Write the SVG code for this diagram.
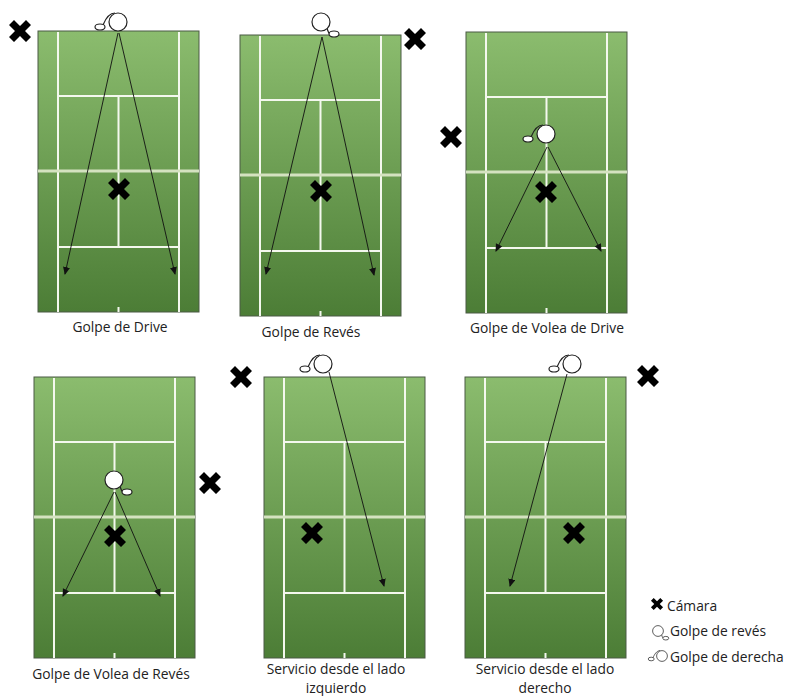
<svg xmlns="http://www.w3.org/2000/svg" xmlns:xlink="http://www.w3.org/1999/xlink" width="786" height="696" viewBox="0 0 786 696">
<style>
text{font-family:"Open Sans","Noto Sans","Liberation Sans",sans-serif;font-size:13.8px;fill:#222}
.m{text-anchor:middle}
.w{stroke:#f4f8ee;stroke-width:2;fill:none}
.n{stroke:#d4e2c0;stroke-width:3;fill:none}
.c{stroke:#111;stroke-width:.9;fill:none;marker-end:url(#ah)}
.p{fill:#fff;stroke:#222;stroke-width:1.2}
.h{fill:none;stroke:#222;stroke-width:1.2}
</style>
<defs>
<linearGradient id="g" x1="0" y1="0" x2="0" y2="1"><stop offset="0" stop-color="#8bbc6e"/><stop offset="1" stop-color="#4c7d36"/></linearGradient>
<marker id="ah" markerWidth="8" markerHeight="8" refX="7" refY="3.500" orient="auto" markerUnits="userSpaceOnUse"><path d="M0 0L8 3.500L0 7z" fill="#111"/></marker>
<symbol id="court" width="164" height="284" viewBox="0 0 164 284" overflow="visible">
<rect x="0" y="0" width="161" height="281" fill="url(#g)" stroke="#4b5a45" stroke-width="1"/>
<path class="w" d="M20 1V281M141 1V281M20 65H141M20 216H141M80.500 65V216M80.500 276V281"/>
<path class="n" d="M0 140H161"/>
</symbol>
<path id="x" d="M-6-11L0-5L6-11L11-6L5 0L11 6L6 11L0 5L-6 11L-11 6L-5 0L-11-6Z" fill="#000"/>
<g id="fore"><path class="h" d="M-3-9C-9-9-13-2-15 3"/><circle class="p" r="9"/><ellipse class="p" cx="-18" cy="5" rx="5" ry="3"/></g>
<g id="back"><path class="h" d="M6 6C7 9 7 11 9 12"/><circle class="p" r="9"/><ellipse class="p" cx="13" cy="12" rx="5" ry="3"/></g>
</defs>
<rect width="786" height="696" fill="#fff"/>
<g id="court-drive"><use xlink:href="#court" x="38" y="31" width="164" height="284"/><use xlink:href="#x" x="20" y="31"/><use xlink:href="#x" x="119" y="189"/><use xlink:href="#fore" x="118" y="22"/><text class="m" x="120" y="332">Golpe de Drive</text></g>
<g id="court-reves"><use xlink:href="#court" x="240" y="35" width="164" height="284"/><use xlink:href="#x" x="415" y="39"/><use xlink:href="#x" x="321" y="191"/><use xlink:href="#back" x="321" y="22"/><text class="m" x="311" y="337">Golpe de Revés</text></g>
<g id="court-volea-drive"><use xlink:href="#court" x="466" y="32" width="164" height="284"/><use xlink:href="#x" x="451" y="137"/><use xlink:href="#x" x="546" y="192"/><use xlink:href="#fore" x="546" y="134"/><text class="m" x="547" y="333">Golpe de Volea de Drive</text></g>
<g id="court-volea-reves"><use xlink:href="#court" x="34" y="377" width="164" height="284"/><use xlink:href="#x" x="210" y="483"/><use xlink:href="#x" x="115" y="536"/><use xlink:href="#back" x="114" y="480"/><text class="m" x="111" y="679">Golpe de Volea de Revés</text></g>
<g id="court-servicio-izq"><use xlink:href="#court" x="264" y="377" width="164" height="284"/><use xlink:href="#x" x="241" y="377"/><use xlink:href="#x" x="312" y="533"/><use xlink:href="#fore" x="323" y="364"/><text class="m" x="336" y="674">Servicio desde el lado</text><text class="m" x="336" y="693">izquierdo</text></g>
<g id="court-servicio-der"><use xlink:href="#court" x="465" y="377" width="164" height="284"/><use xlink:href="#x" x="648" y="376"/><use xlink:href="#x" x="574" y="533"/><use xlink:href="#fore" x="572" y="364"/><text class="m" x="545" y="674">Servicio desde el lado</text><text class="m" x="545" y="693">derecho</text></g>
<g id="connectors">
<path class="c" d="M118 33L65 274"/><path class="c" d="M119 33L175 274"/>
<path class="c" d="M322 37L266 274"/><path class="c" d="M322 37L374 275"/>
<path class="c" d="M547 147L496 251"/><path class="c" d="M548 147L601 251"/>
<path class="c" d="M114 492L63 596"/><path class="c" d="M115 492L160 596"/>
<path class="c" d="M329 372L384 586"/>
<path class="c" d="M567 374L510 586"/>
</g>
<g id="legend">
<use xlink:href="#x" transform="translate(657 604) scale(.55)"/><text x="667" y="611">Cámara</text>
<g transform="translate(658 631) scale(.6)"><path class="h" d="M6 6C7 9 7 11 9 12"/><circle class="p" r="9"/><ellipse class="p" cx="13" cy="12" rx="5" ry="3"/></g><text x="670" y="636">Golpe de revés</text>
<g transform="translate(662 656) scale(.6)"><path class="h" d="M-3-9C-9-9-13-2-15 3"/><circle class="p" r="9"/><ellipse class="p" cx="-18" cy="5" rx="5" ry="3"/></g><text x="670" y="662">Golpe de derecha</text>
</g>
</svg>
